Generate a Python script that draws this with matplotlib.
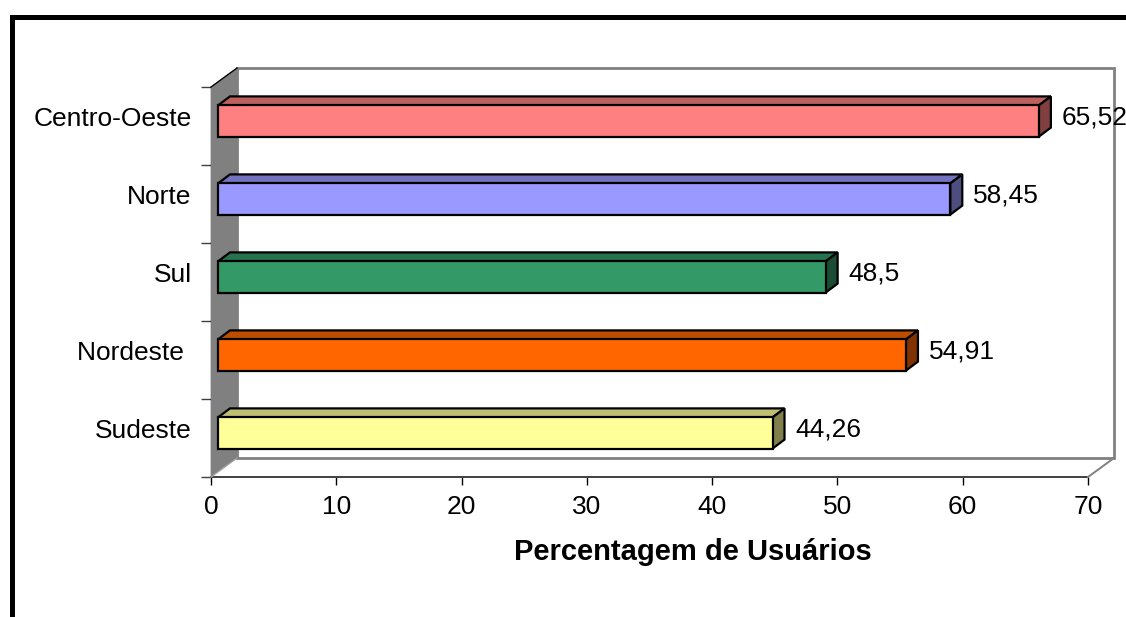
import matplotlib
matplotlib.use("Agg")
import matplotlib.pyplot as plt
from matplotlib.patches import Polygon, Rectangle
from matplotlib.transforms import Affine2D, ScaledTranslation
from matplotlib.lines import Line2D

plt.rcParams["font.family"] = ["Liberation Sans", "DejaVu Sans"]

# dados (de baixo para cima)
regioes = ["Sudeste", "Nordeste ", "Sul", "Norte", "Centro-Oeste"]
valores = [44.26, 54.91, 48.5, 58.45, 65.52]
rotulos = ["44,26", "54,91", "48,5", "58,45", "65,52"]
cores = ["#FFFF99", "#FF6600", "#339966", "#9999FF", "#FF8080"]
xticks = [0, 10, 20, 30, 40, 50, 60, 70]

FS = 19
W, H = 1126, 617
fig = plt.figure(figsize=(W / 100, H / 100), dpi=100)
ax = fig.add_axes([211 / W, (H - 477) / H, 877 / W, 390 / H])
ax.set_xlim(0, 70)
ax.set_ylim(-0.5, 4.5)
for s in ax.spines.values():
    s.set_visible(False)
ax.patch.set_visible(False)

# profundidade do efeito 3D (pixels)
DX, DY = 26, 19          # parede do fundo
B0 = (7, 5)              # frente da barra
B1 = (19, 14)            # fundo da barra


def desloca(tr, dx, dy):
    return tr + Affine2D().translate(dx, dy)


def escurece(c, f):
    r, g, b = matplotlib.colors.to_rgb(c)
    return (r * f, g * f, b * f)


# parede do fundo
ax.add_patch(Rectangle((0, 0), 1, 1, transform=desloca(ax.transAxes, DX, DY),
                       facecolor="white", edgecolor="#808080", lw=2,
                       clip_on=False, zorder=1))
# parede lateral (cinza)
pa = ax.transAxes.transform([(0, 0), (0, 1)])
lat = [pa[0], pa[1], pa[1] + (DX, DY), pa[0] + (DX, DY)]
fig.patches.append(Polygon(lat, closed=True, transform=None, facecolor="#808080",
                           edgecolor="none", zorder=2))
fig.lines.append(Line2D([pa[1][0], pa[1][0] + DX], [pa[1][1], pa[1][1] + DY],
                        transform=None, color="black", lw=1, zorder=3))
fig.lines.append(Line2D([pa[0][0], pa[0][0] + DX], [pa[0][1], pa[0][1] + DY],
                        transform=None, color="#a0a0a0", lw=1, zorder=3))
# chao: diagonal da direita
pb = ax.transAxes.transform((1, 0))
fig.lines.append(Line2D([pb[0], pb[0] + DX], [pb[1], pb[1] + DY],
                        transform=None, color="#808080", lw=1.4, zorder=3))

# barras 3D
h = 0.4
fr = desloca(ax.transData, *B0)
bk = desloca(ax.transData, *B1)
for i, (v, c) in enumerate(zip(valores, cores)):
    y0, y1 = i - h / 2, i + h / 2
    topo = [fr.transform((0, y1)), fr.transform((v, y1)),
            bk.transform((v, y1)), bk.transform((0, y1))]
    lado = [fr.transform((v, y0)), fr.transform((v, y1)),
            bk.transform((v, y1)), bk.transform((v, y0))]
    fig.patches.append(Polygon(topo, closed=True, transform=None,
                               facecolor=escurece(c, 0.75), edgecolor="black",
                               lw=1.6, joinstyle="miter", zorder=4))
    fig.patches.append(Polygon(lado, closed=True, transform=None,
                               facecolor=escurece(c, 0.5), edgecolor="black",
                               lw=1.6, joinstyle="miter", zorder=4))
    fig.patches.append(Polygon([fr.transform((0, y0)), fr.transform((v, y0)),
                                fr.transform((v, y1)), fr.transform((0, y1))],
                               closed=True, transform=None, facecolor=c,
                               edgecolor="black", lw=1.6, joinstyle="miter",
                               zorder=5))
    ax.text(v, i, rotulos[i], transform=desloca(ax.transData, 30, 9),
            ha="left", va="center", fontsize=FS, zorder=6, clip_on=False)

# eixos da frente
ax.plot([0, 0], [-0.5, 4.5], color="black", lw=1, clip_on=False, zorder=6)
ax.plot([0, 70], [-0.5, -0.5], color="#404040", lw=1.4, clip_on=False, zorder=6)

ax.set_xticks(xticks)
ax.set_xticklabels([str(t) for t in xticks], fontsize=FS)
ax.tick_params(axis="x", length=6, width=1, color="black", pad=7)

ax.set_yticks([k - 0.5 for k in range(6)])
ax.set_yticklabels([])
ax.set_yticks(range(5), minor=True)
ax.set_yticklabels(regioes, minor=True, fontsize=FS)
ax.tick_params(axis="y", which="major", length=7, width=1, color="#404040")
ax.tick_params(axis="y", which="minor", length=0, pad=14)
for lb in ax.get_yticklabels(minor=True):
    lb.set_transform(lb.get_transform() + ScaledTranslation(0, 7 / 72, fig.dpi_scale_trans))

ax.set_xlabel("Percentagem de Usuários", fontsize=21, fontweight="bold")
ax.xaxis.set_label_coords((693 - 211) / 877, -(552 - 477) / 390)
ax.xaxis.label.set_va("center")

# moldura
fig.patches.append(Rectangle((11.5, -20), W + 40, H - 17 + 20, transform=None,
                             facecolor="none", edgecolor="black", lw=3.6,
                             zorder=10))

fig.savefig("out.png", dpi=100)
